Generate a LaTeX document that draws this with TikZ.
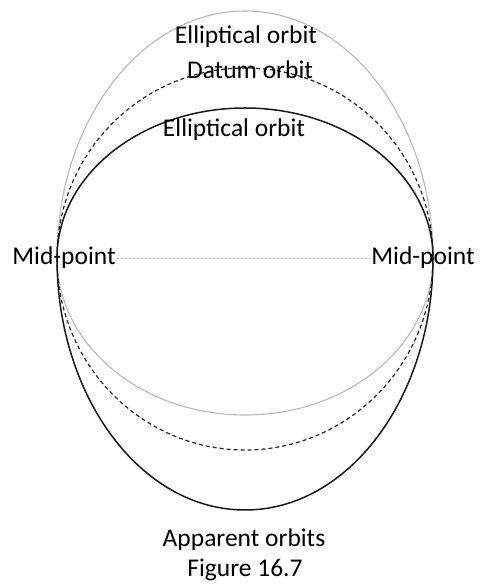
\documentclass[tikz,border=0pt]{standalone}
\usepackage{fontspec}
\setmainfont{Carlito}
\begin{document}
\begin{tikzpicture}[x=1pt,y=1pt,
  lbl/.style={font=\fontsize{25.5}{30}\selectfont, inner sep=1pt},
  grayorbit/.style={draw=black!28, line width=1.1pt},
  datumorbit/.style={draw=black!85, line width=1.2pt, dash pattern=on 4pt off 3pt},
  blackorbit/.style={draw=black!90, line width=1.5pt},
  midline/.style={draw=black!30, line width=0.8pt, dash pattern=on 2pt off 2pt}]
\useasboundingbox (0,0) rectangle (483,586);
\coordinate (L) at (57,328);
% gray orbit
\draw[grayorbit] (L) arc[start angle=180, end angle=0, x radius=188, y radius=247];
\draw[grayorbit] (L) arc[start angle=180, end angle=360, x radius=188, y radius=157];
% datum orbit
\draw[datumorbit] (L) arc[start angle=180, end angle=0, x radius=188, y radius=190];
\draw[datumorbit] (L) arc[start angle=180, end angle=360, x radius=188, y radius=192];
% black orbit
\draw[blackorbit] (L) arc[start angle=180, end angle=0, x radius=188, y radius=150];
\draw[blackorbit] (L) arc[start angle=180, end angle=360, x radius=188, y radius=252];
% labels
\node[lbl] (e1) at (246,549) {Elliptical orbit};
\node[lbl] (datum) at (250,516) {Datum orbit};
\node[lbl] (e2) at (234,456) {Elliptical orbit};
\node[lbl] (mpl) at (64,328) {Mid-point};
\node[lbl] (mpr) at (423,328) {Mid-point};
\node[lbl] (app) at (244,46) {Apparent orbits};
\node[lbl] (fig) at (245,16) {Figure 16.7};
\draw[midline] (mpl.east) -- (mpr.west);
\end{tikzpicture}
\end{document}
